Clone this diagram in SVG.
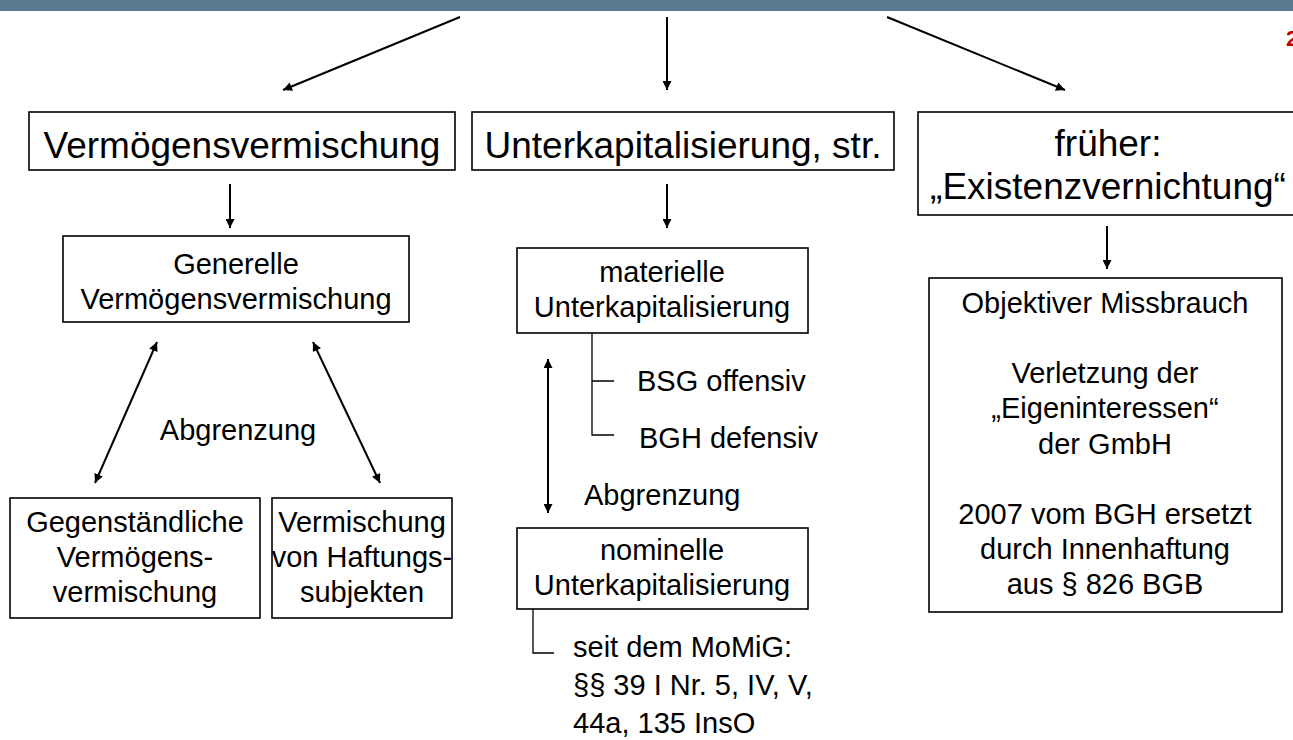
<svg xmlns="http://www.w3.org/2000/svg" width="1293" height="740" viewBox="0 0 1293 740">
<defs>
<marker id="ah" viewBox="0 0 10 10" refX="10" refY="5" markerWidth="12" markerHeight="9" markerUnits="userSpaceOnUse" orient="auto-start-reverse">
<path d="M0,0 L10,5 L0,10 z" fill="#000"/>
</marker>
<style>
.box{fill:#fff;stroke:#000;stroke-width:1.6}
.t{font-family:"Liberation Sans",Arial,sans-serif;fill:#000;text-anchor:middle}
.big{font-size:37px}
.mid{font-size:29px}
.l{text-anchor:start}
.c{stroke:#000;stroke-width:2;fill:none}
.thin{stroke:#000;stroke-width:1.3;fill:none}
</style>
</defs>
<rect x="0" y="0" width="1293" height="11" fill="#5a7c90"/>
<text x="1286" y="46" font-family="Liberation Sans,Arial,sans-serif" font-size="22" font-weight="bold" fill="#c00000">2</text>

<g id="connectors">
<line class="c" x1="460" y1="17" x2="283" y2="90" marker-end="url(#ah)"/>
<line class="c" x1="667" y1="17" x2="667" y2="90" marker-end="url(#ah)"/>
<line class="c" x1="887" y1="17" x2="1065" y2="90" marker-end="url(#ah)"/>
<line class="c" x1="230" y1="184" x2="230" y2="228" marker-end="url(#ah)"/>
<line class="c" x1="667" y1="184" x2="667" y2="228" marker-end="url(#ah)"/>
<line class="c" x1="1107" y1="226" x2="1107" y2="269" marker-end="url(#ah)"/>
<line class="c" x1="157" y1="342" x2="95" y2="483" marker-start="url(#ah)" marker-end="url(#ah)"/>
<line class="c" x1="313" y1="342" x2="380" y2="483" marker-start="url(#ah)" marker-end="url(#ah)"/>
<line class="c" x1="548" y1="359" x2="548" y2="513" marker-start="url(#ah)" marker-end="url(#ah)"/>
<path class="thin" d="M592,334 V435 H614 M592,381 H614"/>
<path class="thin" d="M533,609 V653 H554"/>
</g>

<g id="n-vermoegensvermischung">
<rect class="box" x="29" y="112" width="426" height="58"/>
<text class="t big" x="242" y="158">Vermögensvermischung</text>
</g>
<g id="n-unterkapitalisierung">
<rect class="box" x="472" y="112" width="422" height="58"/>
<text class="t big" x="683" y="158">Unterkapitalisierung, str.</text>
</g>
<g id="n-existenzvernichtung">
<rect class="box" x="918" y="112" width="385" height="103"/>
<text class="t big" x="1108" y="156">früher:</text>
<text class="t big" x="1108" y="199">„Existenzvernichtung“</text>
</g>

<g id="n-generelle">
<rect class="box" x="63" y="236" width="346" height="86"/>
<text class="t mid" x="236" y="274">Generelle</text>
<text class="t mid" x="236" y="309">Vermögensvermischung</text>
</g>
<g id="n-abgrenzung-left">
<text class="t mid" x="238" y="440">Abgrenzung</text>
</g>
<g id="n-gegenstaendliche">
<rect class="box" x="10" y="498" width="250" height="120"/>
<text class="t mid" x="135" y="532">Gegenständliche</text>
<text class="t mid" x="135" y="567">Vermögens-</text>
<text class="t mid" x="135" y="602">vermischung</text>
</g>
<g id="n-haftungssubjekte">
<rect class="box" x="272" y="498" width="180" height="120"/>
<text class="t mid" x="362" y="532">Vermischung</text>
<text class="t mid" x="362" y="567">von Haftungs-</text>
<text class="t mid" x="362" y="602">subjekten</text>
</g>

<g id="n-materielle">
<rect class="box" x="517" y="248" width="291" height="85"/>
<text class="t mid" x="662" y="282">materielle</text>
<text class="t mid" x="662" y="317">Unterkapitalisierung</text>
</g>
<g id="n-bsg">
<text class="t mid l" x="637" y="391">BSG offensiv</text>
</g>
<g id="n-bgh">
<text class="t mid l" x="639" y="448">BGH defensiv</text>
</g>
<g id="n-abgrenzung-mid">
<text class="t mid l" x="584" y="505">Abgrenzung</text>
</g>
<g id="n-nominelle">
<rect class="box" x="517" y="528" width="291" height="81"/>
<text class="t mid" x="662" y="560">nominelle</text>
<text class="t mid" x="662" y="595">Unterkapitalisierung</text>
</g>
<g id="n-momig">
<text class="t mid l" x="573" y="657">seit dem MoMiG:</text>
<text class="t mid l" x="573" y="695">§§ 39 I Nr. 5, IV, V,</text>
<text class="t mid l" x="573" y="733">44a, 135 InsO</text>
</g>

<g id="n-objektiver">
<rect class="box" x="929" y="278" width="353" height="334"/>
<text class="t mid" x="1105" y="313">Objektiver Missbrauch</text>
<text class="t mid" x="1105" y="383">Verletzung der</text>
<text class="t mid" x="1105" y="418">„Eigeninteressen“</text>
<text class="t mid" x="1105" y="454">der GmbH</text>
<text class="t mid" x="1105" y="524">2007 vom BGH ersetzt</text>
<text class="t mid" x="1105" y="559">durch Innenhaftung</text>
<text class="t mid" x="1105" y="594">aus § 826 BGB</text>
</g>
</svg>
